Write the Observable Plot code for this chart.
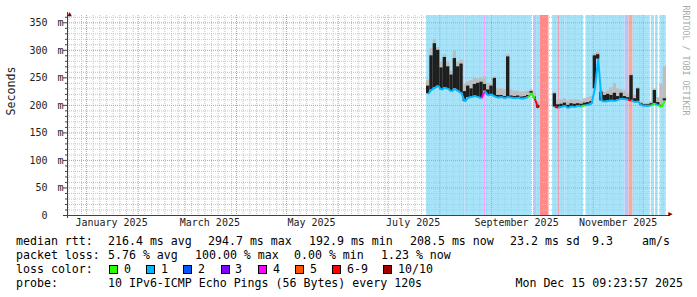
<!DOCTYPE html>
<html><head><meta charset="utf-8">
<script src="https://cdn.jsdelivr.net/npm/d3@7"></script>
<script src="https://cdn.jsdelivr.net/npm/@observablehq/plot@0.6"></script>
<style>
body{margin:0;background:#fff;}
#chart svg{display:block;}
#legend{position:relative;height:65px;font-family:"DejaVu Sans Mono",monospace;font-size:11.6px;color:#000;}
#legend span{position:absolute;white-space:pre;line-height:14px;}
#legend .box{position:absolute;width:7px;height:7px;border:1px solid #000;}
</style></head><body>
<div id="chart"></div>
<div id="legend"></div>
<script>
// ---- data ----
const binStart = "2025-07-24T00:00:00Z";   // first 2-day bin
const binDays = 2;
// median rtt per 2-day bin (ms), null = no data (100% loss)
const median = [221,228,232,235,228,232,230,225,230,226, 222,207,214,215,217,215,213,226,218,220,
                216,214,215,213,215,214,213,214,212,213, 215,222,212,195,null,null,null,null,197,196,
                197,199,195,198,197,199,198,200,201,203, 230,284,208,207,208,209,208,210,212,211,
                210,209,206,207,200,199,199,200,203,200, 197,208];
// top of dark smoke (ms)
const darkTop = [235,290,312,300,268,287,270,255,285,270, 275,225,235,230,238,240,242,238,228,235,
                 249,218,218,216,288,217,216,217,215,216, 218,225,215,200,null,null,null,null,221,201,
                 202,204,200,203,202,203,202,204,205,207, 290,292,224,218,220,218,222,216,222,216,
                 214,254,212,230,203,201,201,203,227,205, 200,212];
// top of light smoke (ms)
const grayTop = [245,303,320,305,278,292,278,262,298,278, 282,238,242,245,250,248,250,252,240,240,
                 252,230,230,228,292,228,226,226,224,225, 226,228,222,206,null,null,null,null,224,208,
                 210,212,208,210,210,210,208,212,214,216, 294,296,228,224,226,232,240,230,228,226,
                 222,257,218,232,206,204,204,206,230,214, 238,270];
// loss class of the median per bin (index into lossLabels)
const medianLoss = [1,1,1,1,1,1,1,1,1,1, 1,1,1,1,1,1,1,4,1,1,
                    1,1,1,1,1,1,1,1,1,1, 1,0,0,6,1,1,1,1,1,6,
                    1,1,1,1,1,1,1,0,1,1, 1,1,1,1,1,1,1,1,1,1,
                    1,6,1,1,1,1,1,1,0,1, 0,0];
// loss background periods
const bgStart = ["2025-07-24T00:00Z","2025-08-15T05:00Z","2025-08-16T02:00Z","2025-08-27T19:00Z","2025-08-28T17:00Z",
                 "2025-09-26T05:00Z","2025-09-28T00:00Z","2025-09-30T10:00Z","2025-10-07T14:00Z","2025-10-10T22:00Z",
                 "2025-10-11T19:00Z","2025-10-14T05:00Z","2025-10-15T02:00Z","2025-10-27T17:00Z","2025-11-20T02:00Z",
                 "2025-11-22T12:00Z","2025-11-24T22:00Z","2025-12-06T00:00Z","2025-12-08T10:00Z","2025-12-11T02:00Z"];
const bgEnd   = ["2025-08-15T05:00Z","2025-08-16T02:00Z","2025-08-27T19:00Z","2025-08-28T17:00Z","2025-09-25T00:00Z",
                 "2025-09-28T00:00Z","2025-09-30T10:00Z","2025-10-05T10:00Z","2025-10-10T22:00Z","2025-10-11T19:00Z",
                 "2025-10-14T05:00Z","2025-10-15T02:00Z","2025-10-26T05:00Z","2025-11-20T02:00Z","2025-11-22T12:00Z",
                 "2025-11-24T22:00Z","2025-12-05T02:00Z","2025-12-07T19:00Z","2025-12-09T22:00Z","2025-12-14T19:00Z"];
const bgLoss  = [1,2,1,4,1, 2,1,7,1,6, 1,2,1,1,2, 5,1,1,1,1];

const lossLabels = ["0","1","2","3","4","5","6-9","10/10"];
const lossColors = ["#26ff00","#00b8ff","#0059ff","#7e00ff","#ff00ff","#ff5500","#ff0000","#a10000"];
const lossBgColors = ["#ffffff","#a8e4f9","#b9c8f6","#d2b4f8","#ff9fff","#f7aaa2","#f0a0b6","#ff8a8a"];

const yMajor = [0,50,100,150,200,250,300,350];
const yLabelNums = ["0","50","100","150","200","250","300","350"];
const monthStarts = ["2025-01-01","2025-02-01","2025-03-01","2025-04-01","2025-05-01","2025-06-01",
                     "2025-07-01","2025-08-01","2025-09-01","2025-10-01","2025-11-01","2025-12-01"];
const xLabelDates = ["2025-01-16","2025-03-16","2025-05-16","2025-07-16","2025-09-16","2025-11-16"];
const xLabelTexts = ["January 2025","March 2025","May 2025","July 2025","September 2025","November 2025"];

const rttStats = ["median rtt:","216.4 ms avg","294.7 ms max","192.9 ms min","208.5 ms now","23.2 ms sd","9.3","am/s"];
const lossStats = ["packet loss:","5.76 % avg","100.00 % max","0.00 % min","1.23 % now"];
const probeText = ["probe:","10 IPv6-ICMP Echo Pings (56 Bytes) every 120s"];
const stampText = "Mon Dec 15 09:23:57 2025";

// ---- build tables ----
const x0 = new Date("2024-12-20T14:00:00Z"), x1 = new Date("2025-12-15T14:00:00Z");
const t0 = new Date(binStart);
const day = 864e5;
const bins = median.map((m, i) => ({
  start: new Date(+t0 + i * binDays * day),
  end: new Date(+t0 + (i + 1) * binDays * day),
  mid: new Date(+t0 + (i + 0.5) * binDays * day),
  m, dark: darkTop[i], gray: grayTop[i], loss: medianLoss[i]
}));
const smoke = bins.filter(b => b.m != null);
const segs = [];
for (let i = 0; i < bins.length - 1; i++) {
  const a = bins[i], b = bins[i + 1];
  if (a.m != null && b.m != null) segs.push({xa: a.mid, ya: a.m, xb: b.mid, yb: b.m, loss: b.loss});
}
const bg = bgStart.map((s, i) => ({s: new Date(s), e: new Date(bgEnd[i]), loss: bgLoss[i]}));
const mStarts = monthStarts.map(d => new Date(d));
const xMinor = d3.utcDay.every(4).range(x0, x1).filter(d => d.getUTCDate() !== 1);
const yMinor = d3.range(10, 361, 10).filter(v => v % 50 !== 0);

const axisColor = "#404040";
const minorGrid = {stroke: "#c4c4c4", strokeDasharray: "1,1"};
const majorGrid = {stroke: "#e39090", strokeDasharray: "1,1"};

const chart = Plot.plot({
  width: 697, height: 232,
  marginLeft: 67, marginRight: 30, marginTop: 15, marginBottom: 17,
  x: {type: "utc", domain: [x0, x1], axis: null},
  y: {domain: [0, 363.2], axis: null},
  style: {background: "#fff", fontFamily: "DejaVu Sans Mono", overflow: "visible", color: "#000"},
  marks: [
    Plot.rect(bg, {x1: "s", x2: "e", fill: d => lossBgColors[d.loss]}),
    Plot.ruleY(yMinor, minorGrid),
    Plot.ruleX(xMinor, minorGrid),
    Plot.ruleY(yMajor.slice(1), majorGrid),
    Plot.ruleX(mStarts, majorGrid),
    Plot.rect(smoke, {x1: "start", x2: "end", y1: "m", y2: "gray", fill: "#bdbdbd"}),
    Plot.rect(smoke, {x1: "start", x2: "end", y1: "m", y2: "dark", fill: "#1e1e1e"}),
    Plot.link(segs, {x1: "xa", y1: "ya", x2: "xb", y2: "yb", stroke: d => lossColors[d.loss], strokeWidth: 2}),
    // axes
    Plot.ruleY(yMajor, {insetLeft: -4, insetRight: 600, stroke: axisColor}),
    Plot.ruleY(yMinor, {insetLeft: -2, insetRight: 600, stroke: axisColor}),
    Plot.ruleX([x0], {insetTop: -3, insetBottom: -3, stroke: axisColor}),
    Plot.ruleY([0], {insetLeft: -4, insetRight: -3, stroke: axisColor}),
    Plot.text(["▲"], {frameAnchor: "top-left", dy: -4, fill: "#7f0000", fontSize: 7}),
    Plot.text(["▶"], {frameAnchor: "bottom-right", dx: 5, fill: "#7f0000", fontSize: 7}),
    Plot.text(yMajor, {y: d => d, frameAnchor: "left", dx: -20, textAnchor: "end", text: (d, i) => yLabelNums[i], fontSize: 10, fill: "#222"}),
    Plot.text(yMajor.slice(1), {y: d => d, frameAnchor: "left", dx: -10, text: () => "m", fontSize: 10, fill: "#222"}),
    Plot.text(xLabelDates.map(d => new Date(d)), {x: d => d, frameAnchor: "bottom", dy: 10, text: (d, i) => xLabelTexts[i], fontSize: 10, fill: "#222"}),
    Plot.text(["Seconds"], {frameAnchor: "left", dx: -56, rotate: -90, fontSize: 11.6, fill: "#222"}),
    Plot.text(["RRDTOOL / TOBI OETIKER"], {frameAnchor: "top-right", dx: 21, dy: -10, rotate: 90, textAnchor: "start", fontSize: 8.3, fill: "#aaaaaa"})
  ]
});
document.getElementById("chart").appendChild(chart);

// ---- legend ----
const lg = document.getElementById("legend");
function put(text, left, top) {
  const s = document.createElement("span");
  s.textContent = text; s.style.left = left + "px"; s.style.top = top + "px";
  lg.appendChild(s); return s;
}
[16,108,208,309,410,510,592,642].forEach((x, i) => put(rttStats[i], x, 2));
[16,108,195,294,381].forEach((x, i) => put(lossStats[i], x, 16));
put("loss color:", 16, 30);
const boxX = [109,146,183,221,258,295,332,383];
const labX = [124,161,198,235,273,310,347,398];
lossLabels.forEach((l, i) => {
  const b = document.createElement("div");
  b.className = "box"; b.style.left = boxX[i] + "px"; b.style.top = "32.5px";
  b.style.background = lossColors[i];
  lg.appendChild(b);
  put(l, labX[i], 30);
});
put(probeText[0], 16, 44);
put(probeText[1], 108, 44);
const st = put(stampText, 0, 44); st.style.left = "auto"; st.style.right = "14px";
</script></body></html>
